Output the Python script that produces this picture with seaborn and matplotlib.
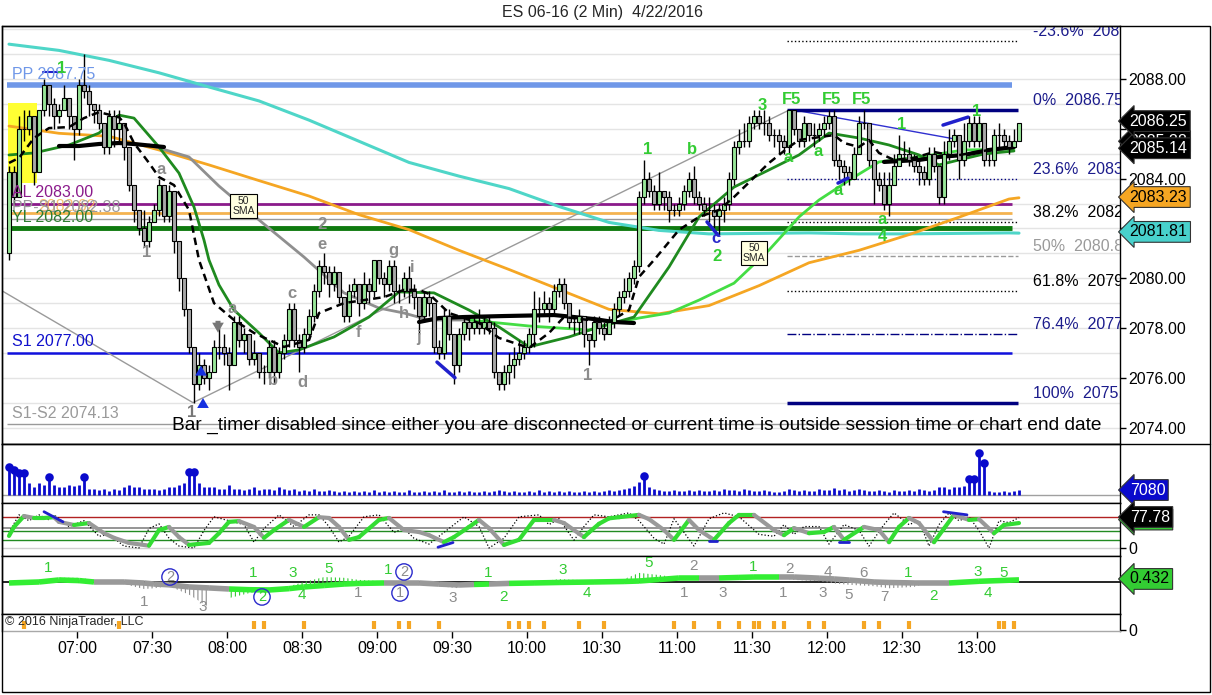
import numpy as np
import matplotlib
matplotlib.use("Agg")
import matplotlib.pyplot as plt
import seaborn as sns
from matplotlib.patches import Rectangle

sns.set_theme(style="white")
plt.rcParams["font.family"] = ["Liberation Sans", "DejaVu Sans"]
plt.rcParams["hatch.linewidth"] = 0.8

W, H = 1212, 695

# =====================================================
# DATA  (ES 06-16, 2 min bars, 4/22/2016)
# =====================================================

first_open = 2081.0

closes = [
    2084.25, 2083.25, 2086.0, 2086.0, 2086.5, 2084.25, 2086.75, 2087.75, 2087.0, 2086.5,
    2086.75, 2087.25, 2086.5, 2086.0, 2087.75, 2087.5, 2087.0, 2086.75, 2086.25, 2085.25,
    2086.5, 2086.0, 2086.25, 2085.25, 2083.75, 2082.75, 2082.0, 2081.5, 2082.25, 2082.75,
    2083.75, 2082.5, 2083.5, 2081.5, 2080.0, 2078.75, 2077.25, 2075.75, 2076.5, 2076.0,
    2076.25, 2077.25, 2077.25, 2077.0, 2076.5, 2078.25, 2077.5, 2077.75, 2076.75, 2077.0,
    2076.25, 2076.25, 2077.25, 2076.25, 2077.0, 2077.5, 2078.75, 2077.5, 2077.25, 2077.75,
    2078.5, 2079.5, 2080.5, 2080.25, 2079.75, 2080.25, 2079.25, 2078.5, 2079.5, 2079.75,
    2079.0, 2079.75, 2079.5, 2080.75, 2080.0, 2079.75, 2080.5, 2079.5, 2079.5, 2080.0,
    2079.5, 2079.25, 2078.5, 2079.25, 2079.0, 2077.25, 2077.0, 2078.5, 2077.75, 2076.5,
    2077.75, 2078.25, 2078.0, 2078.25, 2078.0, 2078.25, 2078.0, 2076.25, 2075.75, 2076.25,
    2076.5, 2076.75, 2077.0, 2077.25, 2077.75, 2078.75, 2078.75, 2079.0, 2078.75, 2079.5,
    2079.75, 2079.0, 2078.25, 2078.25, 2078.5, 2077.75, 2077.5, 2078.25, 2078.0, 2077.75,
    2078.25, 2078.75, 2079.25, 2079.5, 2080.0, 2080.5, 2083.25, 2084.0, 2083.5, 2083.0,
    2083.5, 2083.25, 2082.75, 2082.75, 2083.0, 2083.5, 2084.0, 2083.25, 2083.0, 2082.75,
    2082.75, 2082.5, 2082.75, 2083.0, 2084.0, 2085.25, 2085.5, 2085.5, 2086.25, 2086.5,
    2086.25, 2086.25, 2085.75, 2085.75, 2085.5, 2085.25, 2086.75, 2086.0, 2085.5, 2086.25,
    2085.75, 2085.75, 2086.0, 2086.25, 2086.5, 2084.75, 2084.5, 2084.25, 2084.0, 2085.0,
    2086.25, 2086.25, 2084.75, 2084.0, 2083.75, 2083.0, 2083.75, 2084.5, 2085.0, 2085.0,
    2084.75, 2084.5, 2084.25, 2084.0, 2085.0, 2084.5, 2083.25, 2085.0, 2085.5, 2085.75,
    2084.75, 2085.5, 2086.25, 2085.5, 2086.25, 2084.75, 2084.75, 2085.75, 2085.75, 2085.5,
    2085.25, 2085.5, 2086.25,
]

highs = [
    2084.5, 2084.5, 2086.5, 2086.75, 2086.75, 2086.5, 2086.75, 2088.0, 2087.75, 2087.25,
    2087.0, 2087.75, 2087.25, 2086.5, 2088.0, 2089.0, 2087.75, 2087.0, 2087.0, 2086.25,
    2086.75, 2086.75, 2086.75, 2086.25, 2085.25, 2083.75, 2082.75, 2082.75, 2082.5, 2083.0,
    2084.0, 2083.75, 2083.75, 2083.5, 2081.5, 2080.0, 2078.75, 2077.25, 2077.0, 2076.75,
    2076.5, 2077.5, 2078.0, 2077.75, 2077.25, 2078.5, 2078.5, 2078.0, 2077.75, 2077.5,
    2077.0, 2076.5, 2077.5, 2077.5, 2077.25, 2077.75, 2079.0, 2079.0, 2077.75, 2078.0,
    2078.75, 2079.75, 2080.75, 2081.0, 2080.5, 2080.5, 2080.25, 2079.25, 2079.75, 2080.0,
    2079.75, 2080.25, 2080.0, 2080.75, 2080.75, 2080.25, 2080.75, 2080.75, 2079.75, 2080.25,
    2080.5, 2079.75, 2079.25, 2079.5, 2079.5, 2079.0, 2077.5, 2078.75, 2078.75, 2077.75,
    2078.0, 2078.5, 2078.5, 2078.5, 2078.75, 2078.5, 2078.5, 2078.25, 2076.25, 2076.5,
    2077.0, 2077.25, 2077.5, 2077.5, 2078.0, 2079.5, 2079.25, 2079.5, 2079.25, 2079.75,
    2080.0, 2080.0, 2079.0, 2078.5, 2078.75, 2078.5, 2077.75, 2078.5, 2078.5, 2078.25,
    2078.5, 2079.0, 2079.5, 2080.0, 2080.25, 2080.75, 2083.5, 2084.75, 2084.25, 2083.75,
    2084.25, 2083.5, 2083.5, 2083.0, 2083.25, 2083.75, 2084.25, 2084.5, 2083.5, 2083.25,
    2083.25, 2083.0, 2083.0, 2083.25, 2084.25, 2085.5, 2086.0, 2086.25, 2086.5, 2086.75,
    2086.75, 2086.75, 2086.5, 2086.0, 2086.0, 2085.75, 2086.75, 2086.75, 2086.0, 2086.5,
    2086.25, 2086.25, 2086.25, 2086.5, 2086.75, 2086.75, 2085.0, 2084.75, 2084.5, 2085.25,
    2086.5, 2086.75, 2086.25, 2084.75, 2084.25, 2084.25, 2084.25, 2085.0, 2085.75, 2085.5,
    2085.25, 2085.0, 2084.75, 2084.5, 2085.25, 2085.25, 2084.5, 2085.5, 2086.0, 2086.0,
    2085.75, 2086.25, 2086.5, 2086.5, 2086.5, 2086.25, 2085.0, 2086.0, 2086.25, 2086.0,
    2085.75, 2086.0, 2086.25,
]

lows = [
    2080.75, 2083.0, 2083.25, 2085.5, 2085.75, 2083.75, 2084.25, 2086.5, 2086.5, 2086.0,
    2086.25, 2086.75, 2086.0, 2084.75, 2085.75, 2087.25, 2086.5, 2086.25, 2086.0, 2085.0,
    2085.0, 2085.25, 2085.5, 2084.75, 2083.5, 2082.25, 2081.75, 2081.25, 2081.25, 2082.25,
    2082.5, 2082.25, 2082.25, 2081.0, 2079.5, 2078.5, 2077.0, 2075.0, 2075.5, 2075.75,
    2075.5, 2076.25, 2076.75, 2076.5, 2075.5, 2076.5, 2077.25, 2077.0, 2076.5, 2076.5,
    2076.0, 2075.75, 2076.0, 2075.75, 2076.0, 2076.75, 2077.25, 2077.25, 2076.25, 2077.0,
    2077.5, 2078.25, 2079.25, 2079.75, 2079.25, 2079.5, 2079.0, 2078.25, 2078.25, 2079.25,
    2078.5, 2078.75, 2079.0, 2079.25, 2079.75, 2079.25, 2079.5, 2079.0, 2079.0, 2079.25,
    2079.0, 2078.75, 2077.75, 2078.25, 2078.5, 2077.0, 2076.75, 2076.75, 2077.5, 2075.75,
    2076.25, 2077.5, 2077.5, 2077.75, 2077.75, 2077.75, 2077.75, 2076.0, 2075.5, 2075.5,
    2075.75, 2076.0, 2076.5, 2076.75, 2077.0, 2077.25, 2078.25, 2078.5, 2078.25, 2078.5,
    2079.25, 2078.75, 2078.0, 2077.75, 2077.75, 2077.25, 2076.5, 2077.25, 2077.75, 2077.5,
    2077.75, 2078.0, 2078.5, 2079.0, 2079.25, 2079.75, 2080.25, 2083.0, 2083.25, 2082.75,
    2082.75, 2082.75, 2082.25, 2082.5, 2082.5, 2082.75, 2083.25, 2083.0, 2082.75, 2082.5,
    2082.25, 2082.0, 2081.75, 2082.25, 2082.75, 2083.75, 2085.0, 2085.25, 2085.25, 2086.0,
    2086.0, 2085.75, 2085.5, 2085.25, 2085.0, 2085.0, 2085.0, 2085.75, 2085.25, 2085.25,
    2085.5, 2085.25, 2085.5, 2085.75, 2086.0, 2084.5, 2084.0, 2083.75, 2083.75, 2084.0,
    2085.0, 2086.0, 2084.5, 2083.0, 2083.5, 2082.75, 2082.5, 2083.75, 2084.5, 2084.75,
    2084.5, 2084.25, 2083.75, 2083.75, 2083.75, 2084.25, 2083.0, 2083.0, 2084.75, 2085.25,
    2084.0, 2084.5, 2085.25, 2085.25, 2085.25, 2084.5, 2084.5, 2084.5, 2085.25, 2085.25,
    2085.0, 2085.25, 2085.5,
]

# volume per bar, thousands of contracts
volume_k = [
    39.6, 35.4, 31.2, 31.2, 17.0, 11.3, 17.0, 14.2, 25.5, 14.2,
    11.3, 11.3, 14.2, 12.7, 14.2, 25.5, 8.5, 8.5, 7.1, 8.5,
    5.7, 8.5, 7.1, 11.3, 14.2, 11.3, 11.3, 8.5, 8.5, 8.5,
    7.1, 8.5, 11.3, 11.3, 14.2, 17.0, 32.6, 32.6, 17.0, 11.3,
    11.3, 11.3, 8.5, 8.5, 14.2, 8.5, 8.5, 7.1, 8.5, 11.3,
    7.1, 8.5, 8.5, 7.1, 11.3, 8.5, 7.1, 8.5, 5.7, 7.1,
    5.7, 8.5, 5.7, 5.7, 7.1, 5.7, 4.2, 5.7, 4.2, 5.7,
    4.2, 5.7, 4.2, 7.1, 4.2, 5.7, 4.2, 5.7, 4.2, 4.2,
    7.1, 4.2, 4.2, 5.7, 4.2, 5.7, 4.2, 7.1, 4.2, 4.2,
    5.7, 4.2, 5.7, 4.2, 4.2, 5.7, 4.2, 5.7, 7.1, 5.7,
    4.2, 5.7, 4.2, 4.2, 5.7, 4.2, 7.1, 4.2, 5.7, 4.2,
    5.7, 4.2, 5.7, 4.2, 4.2, 5.7, 4.2, 5.7, 4.2, 5.7,
    7.1, 5.7, 7.1, 8.5, 9.9, 12.7, 18.4, 26.9, 11.3, 8.5,
    7.1, 5.7, 5.7, 7.1, 5.7, 5.7, 7.1, 5.7, 7.1, 5.7,
    5.7, 7.1, 5.7, 8.5, 7.1, 7.1, 5.7, 8.5, 7.1, 5.7,
    5.7, 7.1, 5.7, 4.2, 4.2, 5.7, 8.5, 7.1, 5.7, 7.1,
    5.7, 5.7, 8.5, 7.1, 7.1, 9.9, 7.1, 8.5, 5.7, 7.1,
    8.5, 7.1, 5.7, 5.7, 7.1, 5.7, 4.2, 7.1, 5.7, 5.7,
    7.1, 5.7, 8.5, 7.1, 5.7, 7.1, 11.3, 11.3, 8.5, 11.3,
    11.3, 12.7, 22.7, 22.7, 59.5, 45.3, 5.7, 4.2, 4.2, 5.7,
    4.2, 5.7, 7.08,
]

# moving averages (bar index, price)
ma_k = [0, 10, 20, 30, 40, 50, 60, 70, 80, 90, 100, 110, 120, 130, 140, 150, 160, 170, 180, 190, 200, 202]
turq_p = [2089.40, 2089.15, 2088.75, 2088.25, 2087.68, 2087.12, 2086.35, 2085.50, 2084.65, 2084.10, 2083.60,
          2082.88, 2082.24, 2081.92, 2081.78, 2081.80, 2081.82, 2081.78, 2081.78, 2081.80, 2081.82, 2081.81]
orange_p = [2086.11, 2085.82, 2085.70, 2085.15, 2084.55, 2083.92, 2083.30, 2082.55, 2081.95, 2081.12, 2080.35,
            2079.55, 2078.75, 2078.57, 2078.90, 2079.70, 2080.62, 2081.12, 2081.75, 2082.45, 2083.18, 2083.23]

sma50_k = [28, 36, 42, 50, 59, 67, 74, 79, 84, 92, 104, 116, 121, 126, 132, 138, 145, 152, 158, 162, 169, 174, 182, 191, 201]
sma50_p = [2085.35, 2084.87, 2083.70, 2082.34, 2080.85, 2079.41, 2078.80, 2078.60, 2078.32, 2078.32, 2078.08,
           2077.92, 2078.20, 2078.40, 2078.60, 2079.12, 2079.80, 2081.13, 2082.46, 2083.14, 2084.06, 2084.67,
           2084.87, 2085.15, 2085.19]
sma50_turn = 92

green_k = [0, 5, 12, 18, 22, 25, 30, 34, 37, 39, 40, 42, 45, 50, 54, 58, 65, 72, 78, 85,
           92, 98, 104, 112, 118, 125, 132, 138, 145, 152, 158, 164, 170, 176, 182, 186, 190, 195, 201]
green_p = [2084.95, 2085.03, 2085.35, 2085.83, 2086.55, 2086.43, 2085.27, 2084.22, 2082.86, 2081.53,
           2080.73, 2079.73, 2078.72, 2077.80, 2077.00, 2077.12, 2077.64, 2078.44, 2079.45, 2079.41,
           2078.72, 2078.04, 2077.24, 2077.64, 2078.04, 2078.44, 2080.45, 2082.46, 2083.66, 2084.35,
           2084.95, 2085.83, 2085.63, 2085.35, 2084.95, 2084.55, 2084.75, 2084.99, 2085.11]

dash_k = [0, 2, 5, 8, 12, 15, 18, 22, 23, 25, 28, 30, 33, 36, 38, 41, 45, 49, 52, 55,
          60, 62, 67, 71, 75, 79, 82, 84, 88, 94, 98, 104, 108, 111, 116, 120, 124, 126, 129, 134,
          138, 142, 145, 152, 156, 158, 165, 167, 170, 172, 174, 177, 181, 185, 189, 196, 201]
dash_p = [2084.63, 2084.83, 2085.63, 2086.03, 2086.07, 2086.43, 2086.67, 2086.47, 2086.23, 2085.43,
          2084.63, 2084.06, 2083.74, 2082.74, 2080.73, 2079.00, 2078.32, 2077.80, 2077.52, 2077.24,
          2077.52, 2078.60, 2079.00, 2079.12, 2079.24, 2079.53, 2079.53, 2079.37, 2078.60, 2078.20,
          2077.60, 2077.20, 2077.80, 2078.44, 2078.32, 2078.24, 2078.72, 2080.05, 2080.73, 2081.94,
          2082.46, 2082.74, 2083.26, 2084.63, 2085.27, 2085.55, 2085.75, 2085.43, 2085.27, 2085.55,
          2085.03, 2084.75, 2084.83, 2085.07, 2084.91, 2085.15, 2085.23]

thick_segments = [
    ([10, 14, 18, 22, 25, 31], [2085.31, 2085.31, 2085.39, 2085.43, 2085.39, 2085.27]),
    ([82, 86, 91, 99, 109, 117, 121, 125], [2078.24, 2078.40, 2078.44, 2078.48, 2078.52, 2078.36, 2078.24, 2078.20]),
    ([175, 182, 186, 191, 196, 201], [2084.67, 2084.75, 2084.87, 2084.95, 2085.15, 2085.27]),
]

zig_k = [-1.8, 36.8, 156.2]
zig_p = [2079.54, 2075.00, 2086.77]

# pivot levels
level_names = ["PP 2087.75", "AL 2083.00", "PP-S1 2082.38", "YL 2082.00", "S1 2077.00", "S1-S2 2074.13"]
level_price = [2087.75, 2083.00, 2082.38, 2082.00, 2077.00, 2074.13]
extra_level = 2082.62

# fibonacci retracement
fib_pct = ["-23.6%", "0%", "23.6%", "38.2%", "50%", "61.8%", "76.4%", "100%"]
fib_price = [2089.52, 2086.75, 2083.98, 2082.27, 2080.88, 2079.50, 2077.77, 2075.00]

# swing labels on the price panel
lbl_k = [27.6, 30.4, 44.6, 52.8, 56.6, 58.6, 62.6, 62.6, 69.8, 76.8, 79.0, 80.6, 81.8, 115.8, 36.6,
         10.6, 127.8, 136.6, 150.6, 156.6, 164.6, 170.6, 155.8, 161.8, 165.8, 178.6, 193.6, 174.6, 174.6, 141.6, 141.4]
lbl_p = [2081.05, 2084.35, 2078.80, 2075.90, 2079.37, 2075.83, 2082.14, 2081.37, 2077.80, 2081.13, 2078.60,
         2080.41, 2077.60, 2076.11, 2074.59,
         2088.44, 2085.15, 2085.15, 2086.92, 2087.16, 2087.16, 2087.16, 2084.83, 2085.07, 2083.54, 2086.19,
         2086.71, 2082.34, 2081.69, 2080.89, 2081.61]
lbl_txt = ["1", "a", "a", "b", "c", "d", "2", "e", "f", "g", "h", "i", "j", "1", "1",
           "1", "1", "b", "3", "F5", "F5", "F5", "a", "a", "a", "1", "1", "a", "4", "2", "c"]
lbl_col = ["g"] * 14 + ["k"] + ["G"] * 15 + ["b"]

# stochastic panel
osc_k = [0, 1, 3, 5, 7, 9, 10, 13, 16, 19, 21, 24, 28, 30, 32, 34, 36, 40, 42, 44,
         46, 49, 51, 53, 56, 59, 62, 64, 66, 68, 70, 74, 76, 79, 82, 84, 87, 89, 92, 94,
         96, 99, 102, 105, 109, 111, 115, 116, 118, 120, 122, 126, 128, 131, 133, 136, 138, 141, 144, 146,
         149, 153, 155, 157, 160, 163, 165, 167, 171, 174, 176, 178, 180, 182, 185, 187, 189, 192, 194, 197,
         199, 202]
osc_v = [31, 54, 82, 77, 77, 79, 67, 59, 64, 38, 26, 13, 6, 46, 54, 28, 8, 13, 38, 67,
         69, 54, 26, 46, 72, 54, 79, 77, 54, 21, 28, 72, 77, 46, 41, 33, 15, 28, 54, 72,
         51, 8, 21, 72, 72, 64, 28, 40, 62, 76, 79, 85, 74, 46, 21, 72, 46, 21, 64, 85,
         85, 46, 33, 51, 38, 41, 54, 21, 54, 46, 15, 54, 77, 64, 15, 50, 85, 72, 74, 38,
         59, 64]
raw_k = [0, 2, 4, 6, 8, 9, 12, 15, 18, 20, 23, 26, 28, 30, 32, 34, 37, 39, 41, 44,
         47, 49, 51, 54, 57, 60, 62, 64, 66, 68, 71, 74, 77, 79, 81, 84, 86, 89, 91, 94,
         96, 99, 102, 106, 108, 110, 113, 115, 117, 120, 124, 126, 129, 131, 133, 135, 137, 140, 143, 146,
         150, 153, 155, 157, 159, 162, 164, 167, 170, 172, 175, 177, 180, 182, 184, 186, 188, 190, 192, 194,
         196, 198, 200, 202]
raw_v = [40, 85, 70, 85, 72, 85, 55, 70, 30, 35, 5, 0, 50, 62, 25, 5, 0, 45, 80, 70,
         60, 15, 50, 85, 55, 85, 85, 55, 15, 30, 80, 85, 40, 50, 25, 10, 30, 60, 80, 55,
         0, 25, 80, 85, 60, 75, 20, 55, 85, 80, 90, 70, 25, 10, 75, 40, 5, 75, 90, 80,
         35, 30, 60, 35, 55, 55, 10, 60, 45, 5, 60, 90, 60, 70, 5, 60, 90, 70, 80, 45,
         0, 70, 65, 78]
osc_levels = [80, 52, 44, 20, 0]

# momentum panel
mk = [0, 6, 10, 14, 17, 23, 27, 29, 32, 36, 40, 44, 48, 52, 56, 59, 63, 67, 70, 75,
      78, 82, 86, 90, 93, 96, 100, 105, 110, 117, 123, 126, 130, 134, 138, 142, 146, 149, 154, 157,
      162, 165, 168, 173, 176, 181, 184, 188, 194, 202]
sig = [-0.14, 0, 0.29, 0.2, 0, 0, -0.15, -0.29, -0.4, -0.71, -0.85, -1.0, -1.1, -1.14, -0.95, -0.71, -0.5,
       -0.29, -0.2, -0.14, -0.14, -0.14, -0.3, -0.43, -0.35, -0.29, -0.2, -0.14, -0.07, 0, 0.07, 0.14, 0.35,
       0.57, 0.57, 0.57, 0.65, 0.71, 0.71, 0.71, 0.55, 0.43, 0.28, 0, -0.07, -0.14, -0.14, -0.14, 0.1, 0.3]
macd = [0, 0.3, 0.6, 0.6, 0.3, -0.3, -1.0, -0.9, -0.6, -1.8, -3.6, -2.3, -1.6, -1.1, -0.6, 0.0, 0.7, 0.6,
        0.3, 0.1, 0.3, -0.1, -0.6, -0.9, -0.3, -0.2, -0.1, 0, 0.4, 0.2, 0.4, 1.3, 1.0, 0.6, 0.5, 0.4, 0.6,
        0.8, 0.6, 0.3, 0.1, -0.2, -0.4, -0.6, -0.9, -0.7, -0.1, 0.1, 0.3, 0.3]
green_spans = [(0, 17), (44, 75), (92, 96), (102, 138), (144, 153), (187, 202)]

cnt_k = [7.8, 32.2, 27, 38.8, 48.8, 50.6, 56.8, 58.6, 64, 69.8, 75.8, 79, 78.2, 88.8, 95.8, 98.8, 110.8,
         115.6, 128, 137, 135, 142.8, 148.8, 156, 154.8, 163.8, 162.8, 168, 170.8, 175, 179.8, 184.8,
         193.8, 199, 195.8]
cnt_v = [2.0, 0.71, -2.86, -3.57, 1.29, -2.14, 1.29, -1.86, 1.86, -1.57, 1.71, 1.43, -1.57, -2.29, 1.29,
         -2.14, 1.71, -1.57, 2.71, 2.29, -1.57, -1.57, 2.14, 1.86, -1.57, 1.43, -1.57, -1.86, 1.29, -2.14,
         1.29, -2.0, 1.43, 1.29, -1.57]
cnt_txt = ["1", "2", "1", "3", "1", "2", "3", "4", "5", "1", "1", "2", "1", "3", "1", "2", "3",
           "4", "5", "2", "1", "3", "1", "2", "1", "4", "3", "5", "6", "7", "1", "2",
           "3", "5", "4"]
cnt_col = ["G", "cg", "g", "g", "G", "cG", "G", "G", "G", "g", "G", "cg", "cg", "g", "G", "G", "G",
           "G", "G", "g", "g", "g", "G", "g", "g", "g", "g", "g", "g", "g", "G", "G",
           "G", "G", "G"]

# signal marks (bottom strip)
mark_k = [3, 22, 49, 51, 59, 73, 78, 80, 86, 100, 102, 104, 107, 114, 119, 133, 137, 142, 146, 149,
          150, 153, 155, 160, 163, 171, 174, 180, 198, 199, 201]

tick_labels = ["07:00", "07:30", "08:00", "08:30", "09:00", "09:30", "10:00", "10:30",
               "11:00", "11:30", "12:00", "12:30", "13:00"]

# =====================================================
# FIGURE
# =====================================================
GREEN = "#33cc33"
GREY = "#8c8c8c"
NAVY = "#1c1c8c"
colmap = {"g": GREY, "k": "#777777", "G": GREEN, "b": "#2a2acc"}

fig = plt.figure(figsize=(W / 100, H / 100), dpi=100)
fig.patch.set_facecolor("white")


def px_axes(x0, y0, x1, y1):
    return fig.add_axes([x0 / W, 1 - y1 / H, (x1 - x0) / W, (y1 - y0) / H])


ax = px_axes(2, 26, 1120, 444)
ax_v = px_axes(2, 444, 1120, 503)
ax_o = px_axes(2, 503, 1120, 556)
ax_m = px_axes(2, 556, 1120, 614)
ax_t = px_axes(2, 614, 1120, 631)

for a in [ax, ax_v, ax_o, ax_m, ax_t]:
    a.set_xlim(-1.4, 222.2)
    a.set_facecolor("white")
    for s in a.spines.values():
        s.set_color("black")
        s.set_linewidth(1)
    a.tick_params(left=False, labelleft=False, bottom=False, labelbottom=False,
                  right=True, labelright=True, direction="out", length=4, width=1,
                  colors="black", labelsize=11.5, pad=2)
    a.set_yticks([])
    a.set_xticks([])

# ---------------- price panel ----------------
ax.set_ylim(2073.34, 2090.13)
for p in range(2074, 2091):
    ax.axhline(p, color="#e4e4e4", lw=1, zorder=0)
ax.set_yticks(np.arange(2074, 2089, 2))
ax.set_yticklabels([f"{v:.2f}" for v in np.arange(2074, 2089, 2)])

ax.add_patch(Rectangle((-0.2, 2083.82), 5.8, 3.22, color="#ffff33", zorder=1, lw=0))

lvl_col = ["#6f97e8", "#8b1a8b", "#9a9a9a", "#0f7a0f", "#1010dd", "#9a9a9a"]
lvl_lw = [4, 2, 1, 3.5, 1.8, 1]
for name, p, c, w in zip(level_names, level_price, lvl_col, lvl_lw):
    ax.hlines(p, -0.4, 200.6, color=c, lw=w, zorder=2)
ax.hlines(extra_level, -0.4, 200.6, color="#f4b350", lw=2, zorder=2)

sns.lineplot(x=zig_k, y=zig_p, ax=ax, color="#9a9a9a", lw=1, estimator=None, sort=False, zorder=2)
ax.plot([157.2, 189.2], [2086.75, 2085.59], color="#3030d0", lw=1, zorder=2)

fib_col = ["black", "#000080", "#000080", "black", "#9a9a9a", "black", "#000080", "#000080"]
fib_ls = [":", "-", ":", ":", "--", ":", "-.", "-"]
fib_lw = [1, 2.5, 1, 1, 1, 1, 1, 2.5]
fib_tc = [NAVY, NAVY, NAVY, "black", "#9a9a9a", "black", NAVY, NAVY]
for pct, p, c, ls, w, tc in zip(fib_pct, fib_price, fib_col, fib_ls, fib_lw, fib_tc):
    ax.hlines(p, 155.6, 201.8, color=c, ls=ls, lw=w, zorder=2)
    ax.text(204.8, p + 0.38, f"{pct}  {p:.2f}", color=tc, fontsize=11.5,
            ha="left", va="center", clip_on=True, zorder=6)

sns.lineplot(x=ma_k, y=turq_p, ax=ax, color="#4fd6c8", lw=2.2, estimator=None, sort=False, zorder=3)
sns.lineplot(x=ma_k, y=orange_p, ax=ax, color="#f5a623", lw=2, estimator=None, sort=False, zorder=3)
s50k = np.array(sma50_k)
s50p = np.array(sma50_p)
ax.plot(s50k[s50k <= sma50_turn], s50p[s50k <= sma50_turn], color="#8f8f8f", lw=2, zorder=3)
ax.plot(s50k[s50k >= sma50_turn], s50p[s50k >= sma50_turn], color="#44dd44", lw=2, zorder=3)
sns.lineplot(x=green_k, y=green_p, ax=ax, color="#1f8a1f", lw=2, estimator=None, sort=False, zorder=3)
for sk, sp in thick_segments:
    ax.plot(sk, sp, color="black", lw=3, zorder=3)

# candles
k = np.arange(len(closes))
c = np.array(closes)
o = np.r_[first_open, c[:-1]]
h = np.maximum(np.array(highs), np.maximum(o, c))
l = np.minimum(np.array(lows), np.minimum(o, c))
ax.vlines(k, l, h, color="black", lw=1, zorder=4)
body_col = np.where(c > o, "#98e698", "#a8a8a8")
ax.bar(k, np.abs(c - o), bottom=np.minimum(o, c), width=0.8, color=body_col,
       edgecolor="black", linewidth=0.8, zorder=5)

sns.lineplot(x=dash_k, y=dash_p, ax=ax, color="black", lw=1.8, linestyle=(0, (3, 2)),
             estimator=None, sort=False, zorder=6)

# short trend marks
for xs, ys in [((85.6, 89.2), (2076.63, 2076.0)), ((139.6, 141.8), (2082.26, 2081.73)),
               ((165.8, 167.8), (2083.82, 2084.02)), ((186.8, 191.8), (2086.15, 2086.47))]:
    ax.plot(xs, ys, color="#2020cc", lw=2.5, zorder=6)
ax.plot((6.8, 10.8), (2088.28, 2088.28), color="#2020cc", lw=1.5, zorder=6)

# level labels
lbl_off = 0.45
for name, p, cc in zip(level_names, level_price, ["#6f97e8", "#8b1a8b", "#9a9a9a", "#2e7d32", "#1010cc", "#9a9a9a"]):
    ax.text(0.6, p + lbl_off, name, color=cc, fontsize=11.5, ha="left", va="center", zorder=7)
ax.text(5.8, extra_level + 0.25, f"{extra_level:.2f}", color="#f4b350", fontsize=11.5,
        ha="left", va="center", zorder=6, alpha=0.8)

for kk, pp, t, cc in zip(lbl_k, lbl_p, lbl_txt, lbl_col):
    ax.text(kk, pp, t, color=colmap[cc], fontsize=12, fontweight="bold", ha="center", va="center", zorder=8)

for kk, pp, t in [(46.9, 2082.9, "50\nSMA"), (149.0, 2081.0, "50\nSMA")]:
    ax.text(kk, pp, t, fontsize=7.5, ha="center", va="center", linespacing=0.95, zorder=8,
            bbox=dict(boxstyle="square,pad=0.2", fc="#ffffe0", ec="black", lw=0.8))

arrow = dict(arrowstyle="simple,head_width=0.7,head_length=0.6,tail_width=0.3", lw=0)
ax.annotate("", xy=(41.8, 2077.7), xytext=(41.8, 2078.4), arrowprops=dict(arrow, color="#777777"), zorder=8)
ax.annotate("", xy=(38.8, 2075.3), xytext=(38.8, 2074.7), arrowprops=dict(arrow, color="#1530e0"), zorder=8)
ax.annotate("", xy=(38.4, 2076.6), xytext=(38.4, 2076.2), arrowprops=dict(arrow, color="#1530e0"), zorder=8)

ax.text(32.6, 2074.1,
        "Bar _timer disabled since either you are disconnected or current time is outside session time or chart end date",
        fontsize=13.8, color="black", ha="left", va="center", zorder=9)


def tag(a, val, txt, fc, tc):
    a.annotate(txt, xy=(1, val), xycoords=a.get_yaxis_transform(), xytext=(7, 0),
               textcoords="offset points", ha="left", va="center", fontsize=11.5, color=tc,
               annotation_clip=False, zorder=10,
               bbox=dict(boxstyle="larrow,pad=0.18", fc=fc, ec="#333333", lw=0.8))


tag(ax, 2085.50, "2085.38", "black", "white")
tag(ax, 2085.22, "2085.14", "black", "white")
tag(ax, 2086.31, "2086.25", "black", "white")
tag(ax, 2083.26, "2083.23", "#f5a623", "black")
tag(ax, 2081.86, "2081.81", "#48d1cc", "black")

# ---------------- volume panel ----------------
vol = np.array(volume_k)
ax_v.set_ylim(-11.3, 72.2)
ax_v.axhline(0, color="#a0a0a0", lw=1, zorder=1)
ax_v.vlines(k, 0, vol, color="#0a0acc", lw=2, zorder=2)
big = vol > 20
ax_v.scatter(k[big], vol[big], s=38, color="#0a0acc", zorder=3, linewidths=0)
tag(ax_v, volume_k[-1], f"{volume_k[-1] * 1000:.0f}", "#0a0acc", "white")

# ---------------- stochastic panel ----------------
ax_o.set_ylim(-20.5, 115.4)
for lv, cc, w in zip(osc_levels, ["#b22222", "#8c8c8c", "#228b22", "#228b22", "#d0d0d0"], [1, 1.3, 1, 1, 1]):
    ax_o.axhline(lv, color=cc, lw=w, zorder=1)
ax_o.plot(raw_k, raw_v, color="black", lw=0.9, ls=":", zorder=2)
for i in range(len(osc_k) - 1):
    cc = "#33dd33" if osc_v[i + 1] >= osc_v[i] else "#999999"
    ax_o.plot(osc_k[i:i + 2], osc_v[i:i + 2], color=cc, lw=3, solid_capstyle="round", zorder=3)
for xs, ys in [((7, 10.8), (93, 67)), ((85.8, 88.8), (2, 14)), ((186.9, 191.6), (93, 85)),
               ((140, 141.6), (19, 19)), ((166, 168), (16, 16))]:
    ax_o.plot(xs, ys, color="#2020cc", lw=2, zorder=4)
ax_o.set_yticks([0])
ax_o.set_yticklabels(["0"])
tag(ax_o, 73, "77.78", GREEN, "black")
tag(ax_o, 79.5, "77.78", "black", "white")

# ---------------- momentum panel ----------------
ax_m.set_ylim(-4.57, 3.71)
ax_m.axhline(0, color="black", lw=1.2, zorder=1)
mk_a = np.array(mk)
in_green = np.zeros(len(mk_a), dtype=bool)
for a0, a1 in green_spans:
    in_green |= (mk_a >= a0) & (mk_a <= a1)
ax_m.fill_between(mk, sig, macd, where=~in_green, facecolor="none", edgecolor="#8c8c8c",
                  hatch="||||", linewidth=0, zorder=2)
ax_m.fill_between(mk, sig, macd, where=in_green, facecolor="none", edgecolor="#33cc33",
                  hatch="||||", linewidth=0, zorder=2)
for i in range(len(mk) - 1):
    mid = 0.5 * (mk[i] + mk[i + 1])
    g = any(a0 <= mid <= a1 for a0, a1 in green_spans)
    ax_m.plot(mk[i:i + 2], sig[i:i + 2], color="#33ee33" if g else "#999999", lw=4,
              solid_capstyle="butt", zorder=3)
for kk, vv, t, cc in zip(cnt_k, cnt_v, cnt_txt, cnt_col):
    if cc.startswith("c"):
        ax_m.text(kk, vv, t, color=colmap[cc[1]], fontsize=10.5, ha="center", va="center", zorder=5,
                  bbox=dict(boxstyle="circle,pad=0.08", fc="none", ec="#2a2acc", lw=1))
    else:
        ax_m.text(kk, vv, t, color=colmap[cc], fontsize=11, ha="center", va="center", zorder=5, clip_on=True)
tag(ax_m, 0.432, "0.432", GREEN, "black")

# ---------------- signal strip ----------------
ax_t.set_ylim(-1, 16)
ax_t.spines["bottom"].set_color("#a8a8a8")
ax_t.vlines(mark_k, 1, 9, color="#f5a623", lw=3, zorder=2)
ax_t.set_yticks([0])
ax_t.set_yticklabels(["0"])
ax_t.set_xticks(13.6 + 15 * np.arange(len(tick_labels)))
ax_t.set_xticklabels(tick_labels)
ax_t.tick_params(bottom=True, labelbottom=True, axis="x", length=5, labelsize=11.5, pad=2)

fig.text(5 / W, 1 - 622 / H, "\u00a9 2016 NinjaTrader, LLC", fontsize=9, ha="left", va="center")
fig.text(603 / W, 1 - 13 / H, "ES 06-16 (2 Min)  4/22/2016", fontsize=11.5, ha="center", va="center")
fig.add_artist(Rectangle((2 / W, 1 - 692 / H), 1208 / W, 666 / H, transform=fig.transFigure,
                         fill=False, ec="black", lw=1))
fig.add_artist(plt.Line2D([2 / W, 1210 / W], [1 - 444 / H, 1 - 444 / H], color="black", lw=1))

plt.savefig("out.png", dpi=100)
plt.close()
